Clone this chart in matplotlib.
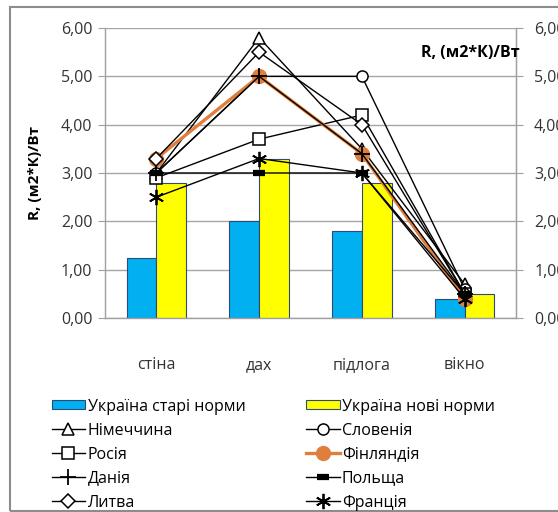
import matplotlib.pyplot as plt
from matplotlib.patches import Rectangle

plt.rcParams['font.family'] = ['Open Sans', 'DejaVu Sans']

# Data
elements = ['стіна', 'дах', 'підлога', 'вікно']
ukraine_old = [1.25, 2.00, 1.80, 0.40]
ukraine_new = [2.80, 3.30, 2.80, 0.50]
germany = [3.00, 5.80, 3.50, 0.70]
slovenia = [3.00, 5.00, 5.00, 0.60]
russia = [2.90, 3.70, 4.20, 0.50]
finland = [3.30, 5.00, 3.40, 0.40]
denmark = [3.00, 5.00, 3.40, 0.50]
poland = [3.00, 3.00, 3.00, 0.50]
lithuania = [3.30, 5.50, 4.00, 0.50]
france = [2.50, 3.30, 3.00, 0.40]
yticks = [0, 1, 2, 3, 4, 5, 6]
ytick_labels = ['0,00', '1,00', '2,00', '3,00', '4,00', '5,00', '6,00']

fig = plt.figure(figsize=(5.58, 5.12), dpi=100)
ax = fig.add_axes([105 / 558, 1 - 318 / 512, 411 / 558, 290 / 512])

x = list(range(len(elements)))
w = 0.29
edge = '#2F4A7A'
b1 = ax.bar([i - w / 2 for i in x], ukraine_old, w, color='#00B0F0', edgecolor=edge,
            linewidth=0.8, label='Україна старі норми', zorder=2)
b2 = ax.bar([i + w / 2 for i in x], ukraine_new, w, color='#FFFF00', edgecolor=edge,
            linewidth=0.8, label='Україна нові норми', zorder=2)

lw = 1.0
l_de, = ax.plot(x, germany, color='black', lw=lw, marker='^', ms=8, mfc='white',
                mec='black', mew=1.1, label='Німеччина', zorder=3)
l_si, = ax.plot(x, slovenia, color='black', lw=lw, marker='o', ms=8, mfc='white',
                mec='black', mew=1.1, label='Словенія', zorder=3)
l_ru, = ax.plot(x, russia, color='black', lw=lw, marker='s', ms=8, mfc='white',
                mec='black', mew=1.1, label='Росія', zorder=3)
l_fi, = ax.plot(x, finland, color='#E07F3C', lw=2.4, marker='o', ms=10, mfc='#E07F3C',
                mec='#E07F3C', label='Фінляндія', zorder=3)
l_dk, = ax.plot(x, denmark, color='black', lw=lw, marker='+', ms=11, mew=1.3,
                label='Данія', zorder=4)
l_pl, = ax.plot(x, poland, color='black', lw=lw, marker='_', ms=8, mew=4.5,
                label='Польща', zorder=4)
l_lt, = ax.plot(x, lithuania, color='black', lw=lw, marker='D', ms=7, mfc='white',
                mec='black', mew=1.1, label='Литва', zorder=3)
l_fr, = ax.plot(x, france, color='black', lw=lw, marker=(6, 2, 0), ms=11, mew=1.3,
                label='Франція', zorder=4)

ax.set_xlim(-0.5, 3.5)
ax.set_ylim(0, 6)
ax.set_yticks(yticks)
ax.set_yticklabels(ytick_labels, fontsize=11.5, color='#333333')
ax.set_xticks(x)
ax.set_xticklabels(elements, fontsize=11.5, color='#333333')
ax.tick_params(axis='x', length=0, pad=28)
ax.tick_params(axis='y', length=5, width=0.8, color='#A0A0A0', pad=4)
ax.yaxis.grid(True, color='#A6A6A6', linewidth=1.0, zorder=0)
ax.set_axisbelow(True)
ax.spines['top'].set_visible(False)
for side in ['left', 'right', 'bottom']:
    ax.spines[side].set_color('#A0A0A0')
    ax.spines[side].set_linewidth(1.0)

ax.set_ylabel('R, (м2*К)/Вт', fontsize=11, fontweight='bold', labelpad=14)

# Secondary axis with the same scale on the right
ax2 = ax.twinx()
ax2.set_ylim(0, 6)
ax2.set_yticks(yticks)
ax2.set_yticklabels(ytick_labels, fontsize=11.5, color='#333333')
ax2.tick_params(axis='y', length=5, width=0.8, color='#A0A0A0', pad=8)
for side in ['top', 'left', 'bottom']:
    ax2.spines[side].set_visible(False)
ax2.spines['right'].set_color('#A0A0A0')
ax2.text(1.01, 0.915, 'R, (м2*К)/Вт', transform=ax.transAxes, ha='right', va='center',
         fontsize=11.5, fontweight='bold')

# Legend below the plot, two columns filled column-wise
handles = [b1, l_de, l_ru, l_dk, l_lt, b2, l_si, l_fi, l_pl, l_fr]
labels = [hd.get_label() for hd in handles]
fig.legend(handles, labels, ncol=2, loc='upper left',
           bbox_to_anchor=(42 / 558, 1 - 389 / 512),
           frameon=False, fontsize=11.5, handlelength=2.1, handleheight=0.5,
           handletextpad=0.15, labelspacing=0.5, columnspacing=3.8, borderpad=0.1)

# Outer chart border
fig.patches.append(Rectangle((10 / 558, 1.5 / 512), 1.2, 1 - 8.5 / 512,
                             transform=fig.transFigure, fill=False,
                             edgecolor='#8C8C8C', linewidth=1.5))

fig.savefig('out.png', dpi=100)
